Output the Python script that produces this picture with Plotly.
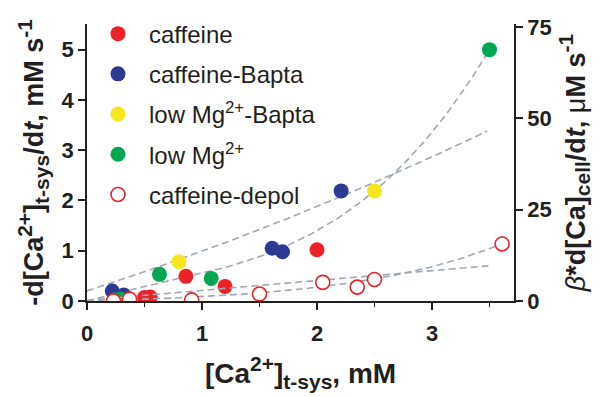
import numpy as np
import plotly.graph_objects as go

# Measured points: x = [Ca2+]t-sys (mM), y = -d[Ca2+]t-sys/dt (mM/s)
caffeine_x = [0.50, 0.55, 0.86, 1.20, 2.00]
caffeine_y = [0.07, 0.08, 0.49, 0.29, 1.02]

bapta_x = [0.22, 0.32, 1.61, 1.70, 2.21]
bapta_y = [0.20, 0.12, 1.05, 0.98, 2.19]

lowmg_bapta_x = [0.80, 2.50]
lowmg_bapta_y = [0.78, 2.19]

lowmg_x = [0.24, 0.29, 0.63, 1.08, 3.50]
lowmg_y = [0.02, 0.04, 0.53, 0.45, 5.00]

# caffeine-depol on the right axis: beta*d[Ca]cell/dt (uM/s)
depol_x = [0.23, 0.37, 0.91, 1.50, 2.05, 2.35, 2.50, 3.61]
depol_y = [0.0, 0.5, 0.3, 1.9, 5.1, 3.8, 5.9, 15.6]

# Trend curve parameters
lin_a = [0.20, 0.739, 0.050]        # y = c0 + c1 x + c2 x^2 (left axis)
cubic_b = [0.657, -0.2444, 0.1328]  # y = a x + b x^2 + c x^3 (left axis)
lin_c = [0.2, 2.7]                  # y = c0 + c1 x (right axis)
exp_d = [1.0, 0.78]                 # y = a (exp(b x) - 1) (right axis)

RED = "#ec2227"
BLUE = "#2e3a92"
YELLOW = "#f8e71c"
GREEN = "#00a650"
LINE = "#a0a7b6"
INK = "#231f20"
FONT = "Liberation Sans, Arial, sans-serif"


def small(t):
    # sub/superscript text at a fixed, slightly larger size than the default
    return f"<span style='font-size:21px'>{t}</span>"


fig = go.Figure()

xa = np.linspace(0, 3.48, 100)
xb = np.linspace(0, 3.50, 100)
xc = np.linspace(0, 3.49, 100)
xd = np.linspace(0, 3.61, 100)
dash = dict(color=LINE, width=1.6, dash="7px,4px")

fig.add_trace(go.Scatter(x=xa, y=lin_a[0] + lin_a[1] * xa + lin_a[2] * xa**2,
                         mode="lines", line=dash, showlegend=False, hoverinfo="skip"))
fig.add_trace(go.Scatter(x=xb, y=cubic_b[0] * xb + cubic_b[1] * xb**2 + cubic_b[2] * xb**3,
                         mode="lines", line=dash, showlegend=False, hoverinfo="skip"))
fig.add_trace(go.Scatter(x=xc, y=lin_c[0] + lin_c[1] * xc, yaxis="y2",
                         mode="lines", line=dash, showlegend=False, hoverinfo="skip"))
fig.add_trace(go.Scatter(x=xd, y=exp_d[0] * (np.exp(exp_d[1] * xd) - 1), yaxis="y2",
                         mode="lines", line=dash, showlegend=False, hoverinfo="skip"))

msize = 15
series = [
    (caffeine_x, caffeine_y, "caffeine", dict(color=RED, size=msize), "y"),
    (bapta_x, bapta_y, "caffeine-Bapta", dict(color=BLUE, size=msize), "y"),
    (lowmg_bapta_x, lowmg_bapta_y, "low Mg<sup>2+</sup>-Bapta",
     dict(color=YELLOW, size=msize), "y"),
    (lowmg_x, lowmg_y, "low Mg<sup>2+</sup>", dict(color=GREEN, size=msize), "y"),
    (depol_x, depol_y, "caffeine-depol",
     dict(color="white", size=msize - 1, line=dict(color=RED, width=1.6)), "y2"),
]
for i, (sx, sy, name, marker, ax) in enumerate(series):
    fig.add_trace(go.Scatter(x=sx, y=sy, mode="markers", name=name, marker=marker,
                             yaxis=ax, legendgroup=f"g{i}"))

tickfont = dict(family=FONT, size=22, color=INK, weight="bold")
titlefont = dict(family=FONT, size=27, color=INK)

x_title = f"<b>[Ca<sup>{small('2+')}</sup>]<sub>{small('t-sys')}</sub>, mM</b>"
y_title = (f"<b>-d[Ca<sup>{small('2+')}</sup>]<sub>{small('t-sys')}</sub>"
           f"/d<i>t</i>, mM s<sup>{small('-1')}</sup></b>")
y2_title = (f"<i>β</i><b>*d[Ca]<sub>{small('cell')}</sub>/d<i>t</i>, </b>μ"
            f"<b>M s<sup>{small('-1')}</sup></b>")

fig.update_layout(
    width=601, height=397,
    margin=dict(l=87, r=87, t=19, b=96),
    paper_bgcolor="white", plot_bgcolor="white",
    font=dict(family=FONT, color=INK),
    xaxis=dict(
        range=[0, 3.713], tickvals=[0, 1, 2, 3], ticks="outside", ticklen=7,
        tickwidth=1.5, tickcolor=INK, showline=True, linecolor=INK,
        linewidth=1.5, showgrid=False, zeroline=False, tickfont=tickfont,
        ticklabelstandoff=5,
        minor=dict(tickvals=[0.5, 1.5, 2.5, 3.5], ticks="outside", ticklen=4,
                   tickwidth=1.2, tickcolor=INK),
        title=dict(text=x_title, font=dict(family=FONT, size=28, color=INK), standoff=18),
    ),
    yaxis=dict(
        range=[0, 5.51], tickvals=[0, 1, 2, 3, 4, 5], ticks="outside", ticklen=7,
        tickwidth=1.5, tickcolor=INK, showline=True, linecolor=INK,
        linewidth=1.5, showgrid=False, zeroline=False, tickfont=tickfont,
        title=dict(text=y_title, font=titlefont, standoff=10),
    ),
    yaxis2=dict(
        overlaying="y", side="right", range=[0, 75.8], tickvals=[0, 25, 50, 75],
        ticks="outside", ticklen=7, tickwidth=1.5, tickcolor=INK,
        showline=True, linecolor=INK, linewidth=1.5, showgrid=False,
        zeroline=False, tickfont=tickfont,
        title=dict(text=y2_title, font=titlefont, standoff=15),
    ),
    legend=dict(
        x=0.0, y=1.045, xanchor="left", yanchor="top",
        font=dict(family=FONT, size=24, color=INK),
        bgcolor="rgba(0,0,0,0)", itemwidth=52, tracegroupgap=6,
        traceorder="grouped", maxheight=390,
    ),
    showlegend=True,
)

fig.write_html("out.html")
